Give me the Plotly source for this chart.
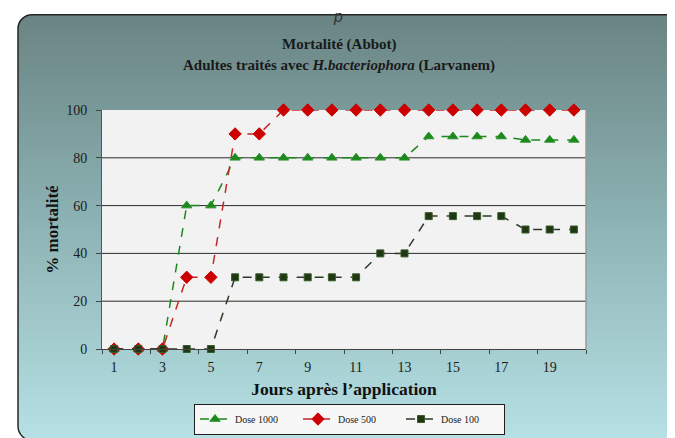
import base64
import plotly.graph_objects as go

days = list(range(1, 21))
dose_1000 = [0, 0, 0, 60, 60, 80, 80, 80, 80, 80, 80, 80, 80, 88.9, 88.9, 88.9, 88.9, 87.5, 87.5, 87.5]
dose_500 = [0, 0, 0, 30, 30, 90, 90, 100, 100, 100, 100, 100, 100, 100, 100, 100, 100, 100, 100, 100]
dose_100 = [0, 0, 0, 0, 0, 30, 30, 30, 30, 30, 30, 40, 40, 55.6, 55.6, 55.6, 55.6, 50, 50, 50]
series_names = ["Dose 1000", "Dose 500", "Dose 100"]
x_tick_labels = [1, 3, 5, 7, 9, 11, 13, 15, 17, 19]
y_ticks = [0, 20, 40, 60, 80, 100]
grid_values = [20, 40, 60, 80]

W, H = 675, 438
L, R, T, B = 94, 578, 102, 343
pw, ph = R - L, B - T


def px(x):
    return (x - L) / pw


def py(y):
    return (B - y) / ph


SERIF = "Liberation Serif"

svg = f"""<svg xmlns='http://www.w3.org/2000/svg' width='{W}' height='{H}' viewBox='0 0 {W} {H}'>
<defs><linearGradient id='g' x1='0' y1='0' x2='0' y2='1'>
<stop offset='0' stop-color='#6a8483'/>
<stop offset='0.45' stop-color='#8aafb0'/>
<stop offset='1' stop-color='#b6e1e5'/>
</linearGradient></defs>
<rect x='10' y='6' width='663' height='429' rx='14' ry='14' fill='url(#g)' stroke='#262626' stroke-width='1.5'/>
</svg>"""
src = "data:image/svg+xml;base64," + base64.b64encode(svg.encode()).decode()

fig = go.Figure()
styles = [
    dict(color="#1b8a1b", line="#2a8f2a", symbol="triangle-up", size=9, lc="#1b8a1b"),
    dict(color="#cc0000", line="#cc0000", symbol="diamond", size=9.5, lc="#c42828"),
    dict(color="#1f3814", line="#3a5a2a", symbol="square", size=7, lc="#2e3a28"),
]
for name, vals, st in zip(series_names, [dose_1000, dose_500, dose_100], styles):
    fig.add_trace(go.Scatter(
        x=days, y=vals, name=name, mode="lines+markers",
        line=dict(color=st["lc"], width=1.5, dash="dash"),
        marker=dict(symbol=st["symbol"], size=st["size"], color=st["color"],
                    line=dict(color=st["line"], width=1)),
        cliponaxis=False,
    ))

shapes = [dict(type="rect", xref="x domain", yref="y domain", x0=0, x1=1, y0=0, y1=1,
               fillcolor="#f2f2f2", line=dict(width=0), layer="below")]
for g in grid_values:
    shapes.append(dict(type="line", xref="x domain", yref="y", x0=0, x1=1, y0=g, y1=g,
                       line=dict(color="#2b2b2b", width=1), layer="below"))
shapes.append(dict(type="line", xref="x domain", yref="y domain", x0=1, x1=1, y0=0, y1=1,
                   line=dict(color="#9a9a9a", width=1.5), layer="below"))

fig.update_layout(
    width=W, height=H,
    margin=dict(l=L, r=W - R, t=T, b=H - B),
    paper_bgcolor="white",
    plot_bgcolor="rgba(0,0,0,0)",
    showlegend=True,
    images=[dict(source=src, xref="paper", yref="paper", x=px(0), y=py(0),
                 sizex=W / pw, sizey=H / ph, xanchor="left", yanchor="top",
                 sizing="stretch", layer="below")],
    shapes=shapes,
    legend=dict(orientation="h", x=px(186), y=py(398), xanchor="left", yanchor="top",
                bgcolor="#f7f7f7", bordercolor="#1e1e1e", borderwidth=1,
                font=dict(family=SERIF, size=10, color="#1a1a1a"),
                entrywidth=58, entrywidthmode="pixels", itemwidth=30),
    xaxis=dict(range=[0.5, 20.5], tickmode="array", tickvals=x_tick_labels,
               ticktext=[str(v) for v in x_tick_labels], ticks="",
               showgrid=False, zeroline=False, showline=True, linecolor="#444", linewidth=1,
               minor=dict(tick0=0.5, dtick=2, ticks="outside", ticklen=4, tickcolor="#444",
                          showgrid=False),
               ticklabelstandoff=5,
               tickfont=dict(family=SERIF, size=14, color="#1a1a1a"),
               title=dict(text="<b>Jours après l’application</b>",
                          font=dict(family=SERIF, size=17.5, color="#111"), standoff=8)),
    yaxis=dict(range=[0, 100], tickvals=y_ticks, ticks="outside", ticklen=5, tickcolor="#444",
               showgrid=False, zeroline=False, showline=True, linecolor="#555", linewidth=1,
               tickfont=dict(family=SERIF, size=14, color="#1a1a1a"),
               ticklabelstandoff=6,
               title=dict(text="<b>% mortalité</b>",
                          font=dict(family=SERIF, size=17, color="#111"), standoff=3)),
    annotations=[
        dict(text="<i>p</i>", xref="paper", yref="paper",
             x=px(330), y=py(8), showarrow=False, xanchor="center", yanchor="middle",
             font=dict(family="Liberation Sans", size=16, color="#333")),
        dict(text="<b>Mortalité (Abbot)</b>", xref="paper", yref="paper",
             x=px(331), y=py(36), showarrow=False, xanchor="center", yanchor="middle",
             font=dict(family=SERIF, size=15, color="#1a1a1a")),
        dict(text="<b>Adultes traités avec <i>H.bacteriophora</i> (Larvanem)</b>", xref="paper",
             yref="paper", x=px(331), y=py(57), showarrow=False, xanchor="center",
             yanchor="middle", font=dict(family=SERIF, size=15, color="#1a1a1a")),
    ],
)

fig.write_html("out.html")
